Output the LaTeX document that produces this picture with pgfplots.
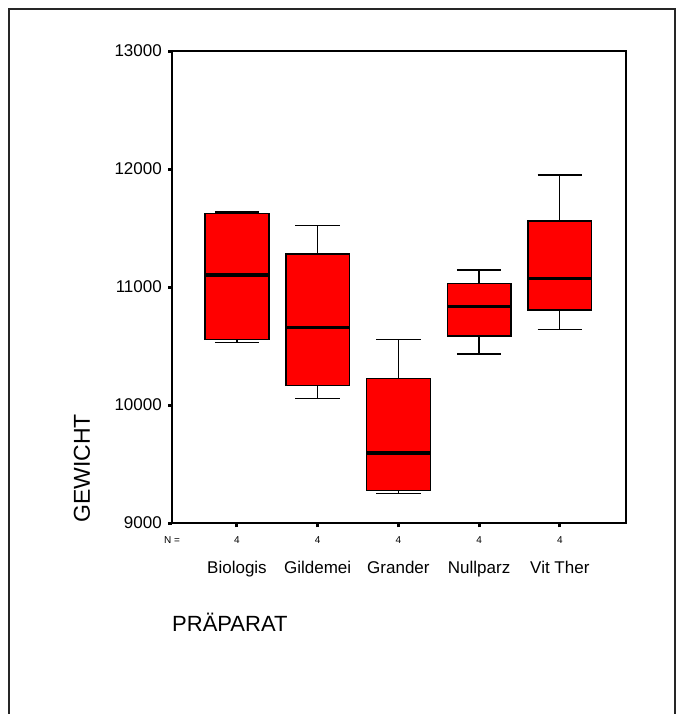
\documentclass[border=0pt]{standalone}
\usepackage{pgfplots}
\pgfplotsset{compat=1.18}
\usepackage{fontspec}
\setmainfont{Liberation Sans}
\begin{document}
\begin{tikzpicture}
\draw[line width=1.5pt, black!85] (9pt,-730pt) -- (9pt,-9pt) -- (675pt,-9pt) -- (675pt,-730pt);
\begin{axis}[
  at={(172pt,-523pt)}, anchor=south west,
  scale only axis, width=454pt, height=472pt,
  xmin=0.195, xmax=5.82, ymin=9000, ymax=13000,
  clip=false,
  unbounded coords=jump,
  axis line style={line width=1.4pt},
  tick style={line width=3pt, black},
  major tick length=4pt,
  tick align=outside,
  xtick pos=bottom, ytick pos=left,
  ytick={9000,10000,11000,12000,13000},
  scaled y ticks=false,
  /pgf/number format/assume math mode=true,
  /pgf/number format/set thousands separator={},
  /pgf/number format/fixed,
  yticklabel style={font=\fontsize{17}{20}\selectfont, anchor=east, inner sep=0pt, xshift=-6pt},
  xtick={1,2,3,4,5},
  xticklabels={Biologis,Gildemei,Grander,Nullparz,Vit Ther},
  xticklabel style={font=\fontsize{17}{20}\selectfont, anchor=base, inner sep=0pt, yshift=-46pt},
  extra x ticks={1,2,3,4,5},
  extra x tick labels={4,4,4,4,4},
  extra x tick style={xticklabel style={font=\fontsize{10}{12}\selectfont, yshift=30pt}},
  xlabel={PRÄPARAT},
  xlabel style={at={(rel axis cs:0,0)}, anchor=base west, inner sep=0pt, yshift=-108pt, font=\fontsize{22}{26}\selectfont},
  wh/.style={black, line width=1.3pt},
  bx/.style={draw=black, fill=red, line width=1.4pt},
  md/.style={black, line width=3.5pt},
]
% Biologis: 10528 10557 11102 11621 11635
\addplot[wh] coordinates {(1,11621)(1,11635) (1,nan) (0.725,11635)(1.275,11635) (1,nan) (1,10557)(1,10528) (1,nan) (0.725,10528)(1.275,10528)};
\addplot[bx] coordinates {(0.605,10557)(1.395,10557)(1.395,11621)(0.605,11621)} -- cycle;
\addplot[md] coordinates {(0.605,11102)(1.395,11102)};
% Gildemei: 10057 10164 10655 11280 11519
\addplot[wh] coordinates {(2,11280)(2,11519) (2,nan) (1.725,11519)(2.275,11519) (2,nan) (2,10164)(2,10057) (2,nan) (1.725,10057)(2.275,10057)};
\addplot[bx] coordinates {(1.605,10164)(2.395,10164)(2.395,11280)(1.605,11280)} -- cycle;
\addplot[md] coordinates {(1.605,10655)(2.395,10655)};
% Grander: 9248 9274 9593 10226 10557
\addplot[wh] coordinates {(3,10226)(3,10557) (3,nan) (2.725,10557)(3.275,10557) (3,nan) (3,9274)(3,9248) (3,nan) (2.725,9248)(3.275,9248)};
\addplot[bx] coordinates {(2.605,9274)(3.395,9274)(3.395,10226)(2.605,10226)} -- cycle;
\addplot[md] coordinates {(2.605,9593)(3.395,9593)};
% Nullparz: 10432 10585 10836 11031 11144
\addplot[wh] coordinates {(4,11031)(4,11144) (4,nan) (3.725,11144)(4.275,11144) (4,nan) (4,10585)(4,10432) (4,nan) (3.725,10432)(4.275,10432)};
\addplot[bx] coordinates {(3.605,10585)(4.395,10585)(4.395,11031)(3.605,11031)} -- cycle;
\addplot[md] coordinates {(3.605,10836)(4.395,10836)};
% Vit Ther: 10641 10805 11074 11559 11949
\addplot[wh] coordinates {(5,11559)(5,11949) (5,nan) (4.725,11949)(5.275,11949) (5,nan) (5,10805)(5,10641) (5,nan) (4.725,10641)(5.275,10641)};
\addplot[bx] coordinates {(4.605,10805)(5.395,10805)(5.395,11559)(4.605,11559)} -- cycle;
\addplot[md] coordinates {(4.605,11074)(5.395,11074)};
\node[font=\fontsize{10}{12}\selectfont, anchor=base, inner sep=0pt, yshift=-20pt] at (rel axis cs:0,0) {N =};
\end{axis}
\node[rotate=90, anchor=west, inner sep=0pt, font=\fontsize{23}{27}\selectfont] at (82pt,-523pt) {GEWICHT};
\pgfresetboundingbox
\useasboundingbox (0,0) rectangle (676pt,-714pt);
\end{tikzpicture}
\end{document}
